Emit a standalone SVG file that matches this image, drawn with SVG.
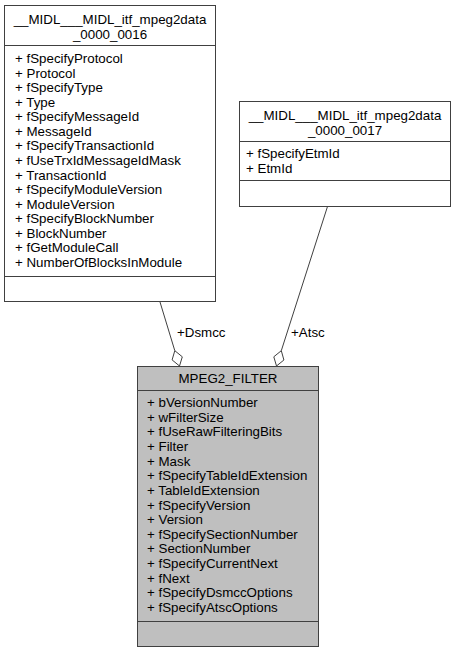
<svg xmlns="http://www.w3.org/2000/svg" width="456" height="653" viewBox="0 0 456 653">
<style>
text{font-family:"Liberation Sans",Arial,Helvetica,sans-serif;font-size:13.33px;fill:#000}
.c{text-anchor:middle}
.box{fill:#fff;stroke:#404040;stroke-width:1}
.sel{fill:#bfbfbf;stroke:#404040;stroke-width:1}
.sep{stroke:#404040;stroke-width:1}
.edge{fill:none;stroke:#404040;stroke-width:1}
.dia{fill:#fff;stroke:#404040;stroke-width:1}
</style>
<rect width="456" height="653" fill="#fff"/>
<g id="connectors">
<path class="edge" d="M160,302 L174.8,350.7"/>
<polygon class="dia" points="179.5,366 182.3,356.8 174.8,350.7 172.1,359.9"/>
<text x="177" y="337">+Dsmcc</text>
<path class="edge" d="M327.5,206.5 L281.3,350.7"/>
<polygon class="dia" points="276.5,366 283.9,360 281.3,350.7 273.8,356.8"/>
<text x="291" y="337">+Atsc</text>
</g>
<g id="node_0016">
<rect class="box" x="4.5" y="5.5" width="211" height="296"/>
<line class="sep" x1="4.5" y1="45.5" x2="215.5" y2="45.5"/>
<line class="sep" x1="4.5" y1="276.5" x2="215.5" y2="276.5"/>
<text class="c" x="110" y="24">__MIDL___MIDL_itf_mpeg2data</text>
<text class="c" x="110" y="38.5">_0000_0016</text>
<text x="15" y="63">+ fSpecifyProtocol</text>
<text x="15" y="77.6">+ Protocol</text>
<text x="15" y="92.1">+ fSpecifyType</text>
<text x="15" y="106.7">+ Type</text>
<text x="15" y="121.3">+ fSpecifyMessageId</text>
<text x="15" y="135.9">+ MessageId</text>
<text x="15" y="150.4">+ fSpecifyTransactionId</text>
<text x="15" y="165">+ fUseTrxIdMessageIdMask</text>
<text x="15" y="179.6">+ TransactionId</text>
<text x="15" y="194.1">+ fSpecifyModuleVersion</text>
<text x="15" y="208.7">+ ModuleVersion</text>
<text x="15" y="223.3">+ fSpecifyBlockNumber</text>
<text x="15" y="237.8">+ BlockNumber</text>
<text x="15" y="252.4">+ fGetModuleCall</text>
<text x="15" y="267">+ NumberOfBlocksInModule</text>
</g>
<g id="node_0017">
<rect class="box" x="239.5" y="101.5" width="211" height="105"/>
<line class="sep" x1="239.5" y1="141.5" x2="450.5" y2="141.5"/>
<line class="sep" x1="239.5" y1="180.5" x2="450.5" y2="180.5"/>
<text class="c" x="345" y="120">__MIDL___MIDL_itf_mpeg2data</text>
<text class="c" x="345" y="134.5">_0000_0017</text>
<text x="246" y="158">+ fSpecifyEtmId</text>
<text x="246" y="172.5">+ EtmId</text>
</g>
<g id="node_filter">
<rect class="sel" x="137.5" y="366.5" width="181" height="280"/>
<line class="sep" x1="137.5" y1="390.5" x2="318.5" y2="390.5"/>
<line class="sep" x1="137.5" y1="621.5" x2="318.5" y2="621.5"/>
<text class="c" x="228" y="382.5">MPEG2_FILTER</text>
<text x="147" y="407">+ bVersionNumber</text>
<text x="147" y="421.6">+ wFilterSize</text>
<text x="147" y="436.3">+ fUseRawFilteringBits</text>
<text x="147" y="450.9">+ Filter</text>
<text x="147" y="465.6">+ Mask</text>
<text x="147" y="480.2">+ fSpecifyTableIdExtension</text>
<text x="147" y="494.8">+ TableIdExtension</text>
<text x="147" y="509.5">+ fSpecifyVersion</text>
<text x="147" y="524.1">+ Version</text>
<text x="147" y="538.8">+ fSpecifySectionNumber</text>
<text x="147" y="553.4">+ SectionNumber</text>
<text x="147" y="568">+ fSpecifyCurrentNext</text>
<text x="147" y="582.7">+ fNext</text>
<text x="147" y="597.3">+ fSpecifyDsmccOptions</text>
<text x="147" y="612">+ fSpecifyAtscOptions</text>
</g>
</svg>
